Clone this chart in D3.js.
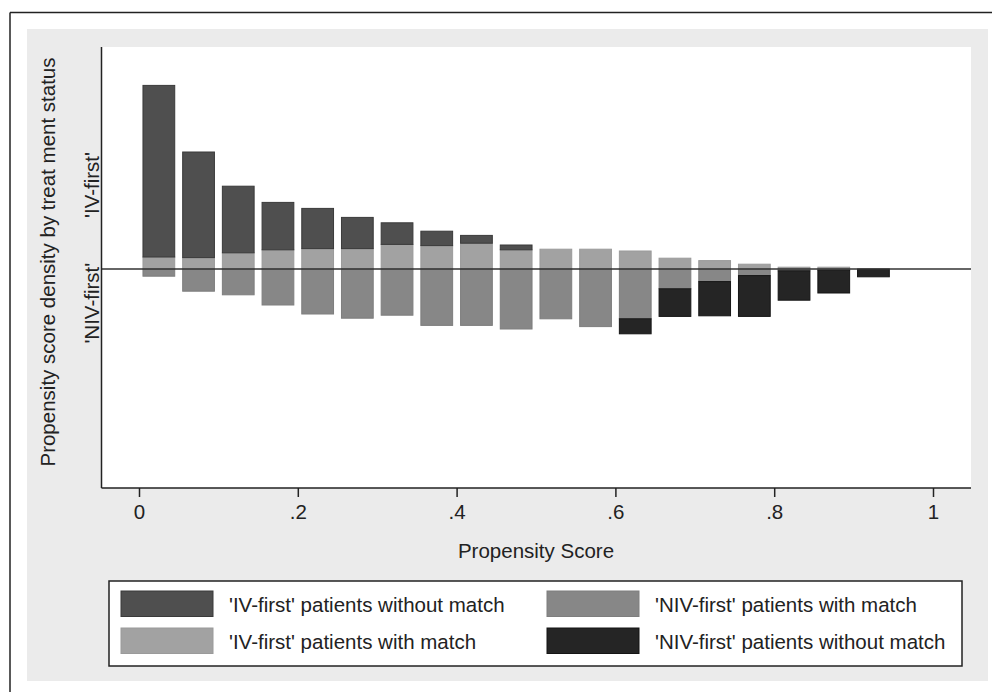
<!DOCTYPE html>
<html>
<head>
<meta charset="utf-8">
<script src="https://cdn.jsdelivr.net/npm/d3@7"></script>
<style>
  html, body { margin: 0; padding: 0; background: #ffffff; }
  svg { display: block; }
  text { font-family: "Liberation Sans", Arial, sans-serif; fill: #222; }
</style>
</head>
<body>
<svg id="chart" width="992" height="692"></svg>
<script>
// Bin centers of propensity score (bin width 0.05)
const binCenters = [0.025, 0.075, 0.125, 0.175, 0.225, 0.275, 0.325, 0.375, 0.425, 0.475,
                    0.525, 0.575, 0.625, 0.675, 0.725, 0.775, 0.825, 0.875, 0.925];
// Densities (above zero: 'IV-first'; below zero: 'NIV-first')
const ivWithoutMatch  = [2.86, 1.76, 1.11, 0.79, 0.67, 0.52, 0.36, 0.24, 0.13, 0.08, 0, 0, 0, 0, 0, 0, 0, 0, 0];
const ivWithMatch     = [0.20, 0.19, 0.27, 0.32, 0.34, 0.34, 0.41, 0.39, 0.43, 0.32, 0.33, 0.33, 0.30, 0.18, 0.14, 0.08, 0.03, 0.03, 0];
const nivWithMatch    = [0.12, 0.37, 0.43, 0.60, 0.75, 0.82, 0.77, 0.94, 0.94, 1.00, 0.83, 0.96, 0.83, 0.33, 0.21, 0.11, 0.03, 0.02, 0];
const nivWithoutMatch = [0, 0, 0, 0, 0, 0, 0, 0, 0, 0, 0, 0, 0.25, 0.46, 0.57, 0.68, 0.49, 0.38, 0.13];
const xTicks = [0, 0.2, 0.4, 0.6, 0.8, 1];
const xTickLabels = ["0", ".2", ".4", ".6", ".8", "1"];
const legendLabels = ["'IV-first' patients without match", "'NIV-first' patients with match",
                      "'IV-first' patients with match", "'NIV-first' patients without match"];
const sideLabels = [{text: "'IV-first'", v: 1.4}, {text: "'NIV-first'", v: -0.57}];

const colors = {
  ivNo:  {fill: "#4f4f4f", stroke: "#3a3a3a"},
  ivM:   {fill: "#a2a2a2", stroke: "#9a9a9a"},
  nivM:  {fill: "#878787", stroke: "#7e7e7e"},
  nivNo: {fill: "#252525", stroke: "#151515"}
};
const FS = 20.5;

const svg = d3.select("#chart");

// outer frame
svg.append("line").attr("x1", 10).attr("y1", 12.5).attr("x2", 992).attr("y2", 12.5)
  .attr("stroke", "#222").attr("stroke-width", 1.5);
svg.append("line").attr("x1", 10).attr("y1", 12.5).attr("x2", 10).attr("y2", 692)
  .attr("stroke", "#222").attr("stroke-width", 1.5);
// graph region background
svg.append("rect").attr("x", 27).attr("y", 29).attr("width", 961).attr("height", 652).attr("fill", "#ebebeb");

const plot = {left: 101.5, right: 971, top: 47, bottom: 488};
svg.append("rect").attr("x", plot.left).attr("y", plot.top)
  .attr("width", plot.right - plot.left).attr("height", plot.bottom - plot.top).attr("fill", "#ffffff");

const x = d3.scaleLinear().domain([0, 1]).range([139, 933]);
const y = d3.scaleLinear().domain([-3.65, 3.7]).range([plot.bottom, plot.top]);

const barW = x(0.04) - x(0);
const data = binCenters.map((c, i) => ({c, ivNo: ivWithoutMatch[i], ivM: ivWithMatch[i], nivM: nivWithMatch[i], nivNo: nivWithoutMatch[i]}));

const g = svg.append("g");
function drawSeg(key, lo, hi) {
  g.selectAll(null).data(data.filter(d => d[key] > 0)).join("rect")
    .attr("x", d => x(d.c) - barW / 2)
    .attr("width", barW)
    .attr("y", d => y(hi(d)))
    .attr("height", d => y(lo(d)) - y(hi(d)))
    .attr("fill", colors[key].fill)
    .attr("stroke", colors[key].stroke)
    .attr("stroke-width", 1);
}
drawSeg("ivM", d => 0, d => d.ivM);
drawSeg("ivNo", d => d.ivM, d => d.ivM + d.ivNo);
drawSeg("nivM", d => -d.nivM, d => 0);
drawSeg("nivNo", d => -d.nivM - d.nivNo, d => -d.nivM);

// zero line
svg.append("line").attr("x1", plot.left).attr("x2", plot.right).attr("y1", y(0)).attr("y2", y(0))
  .attr("stroke", "#333").attr("stroke-width", 1.5);

// axes
svg.append("line").attr("x1", plot.left).attr("x2", plot.left).attr("y1", plot.top).attr("y2", plot.bottom)
  .attr("stroke", "#222").attr("stroke-width", 1.5);
const xAxis = d3.axisBottom(x).tickValues(xTicks).tickFormat((d, i) => xTickLabels[i]).tickSize(9).tickPadding(7);
const xa = svg.append("g").attr("transform", `translate(0,${plot.bottom})`).call(xAxis);
xa.select(".domain").remove();
xa.append("line").attr("x1", plot.left).attr("x2", plot.right).attr("y1", 0).attr("y2", 0)
  .attr("stroke", "#222").attr("stroke-width", 1.5);
xa.selectAll(".tick line").attr("stroke", "#222").attr("stroke-width", 1.5);
xa.selectAll(".tick text").attr("font-size", FS).attr("fill", "#222")
  .style("font-family", "'Liberation Sans', Arial, sans-serif");

svg.append("text").attr("x", x(0.5)).attr("y", 558).attr("text-anchor", "middle")
  .attr("font-size", FS).text("Propensity Score");

// y title
svg.append("text").attr("transform", `translate(55,262) rotate(-90)`).attr("text-anchor", "middle")
  .attr("font-size", FS).text("Propensity score density by treat ment status");
sideLabels.forEach(s => {
  svg.append("text").attr("transform", `translate(99,${y(s.v)}) rotate(-90)`).attr("text-anchor", "middle")
    .attr("font-size", FS).text(s.text);
});

// legend
svg.append("rect").attr("x", 109).attr("y", 581).attr("width", 853).attr("height", 85)
  .attr("fill", "#fff").attr("stroke", "#222").attr("stroke-width", 1.5);
const legKeys = ["ivNo", "nivM", "ivM", "nivNo"];
legKeys.forEach((k, i) => {
  const col = i % 2, row = Math.floor(i / 2);
  const sx = col === 0 ? 121 : 547;
  const sy = row === 0 ? 591 : 628;
  svg.append("rect").attr("x", sx).attr("y", sy).attr("width", 92).attr("height", 25.5)
    .attr("fill", colors[k].fill).attr("stroke", colors[k].stroke).attr("stroke-width", 1);
  svg.append("text").attr("x", sx + 108).attr("y", sy + 13).attr("dominant-baseline", "central")
    .attr("font-size", FS).text(legendLabels[i]);
});
</script>
</body>
</html>
